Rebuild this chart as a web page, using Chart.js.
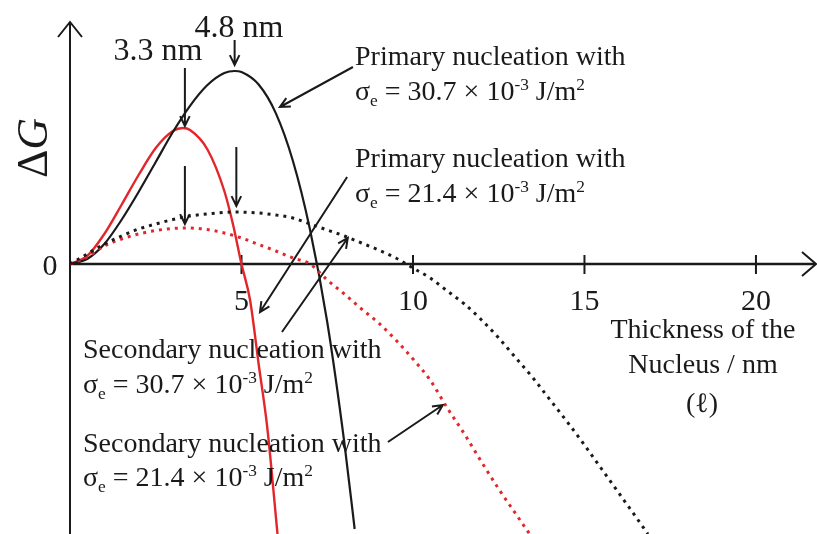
<!DOCTYPE html>
<html>
<head>
<meta charset="utf-8">
<script src="https://cdn.jsdelivr.net/npm/chart.js@4.4.0/dist/chart.umd.min.js"></script>
<style>
  html, body { margin: 0; padding: 0; background: #fff; }
</style>
</head>
<body>
<canvas id="myChart" width="817" height="534"></canvas>
<script>
// thickness of the nucleus (nm) vs ΔG (arbitrary units)
const lPrimary307 = [0, 0.5, 1, 1.5, 2, 2.5, 3, 3.5, 4, 4.5, 4.8, 5, 5.5, 6, 6.5, 7, 7.5, 8, 8.3];
const gPrimary307 = [0, 0.5, 2.0, 4.4, 7.2, 10.2, 13.2, 15.82, 17.87, 19.09, 19.3, 19.2, 17.95, 15.09, 10.3, 3.4, -5.8, -17.9, -26.5];

const lPrimary214 = [0, 0.5, 1, 1.5, 2, 2.5, 3, 3.3, 3.5, 4, 4.5, 4.75, 5, 5.25, 5.5, 5.75, 6.05];
const gPrimary214 = [0, 0.8, 3.0, 5.9, 8.9, 11.6, 13.3, 13.6, 13.4, 11.5, 7.3, 4.0, 0, -3.6, -10.0, -16.3, -27];

const lSecondary307 = [0, 0.5, 1, 1.5, 2, 2.5, 3, 3.5, 4, 4.8, 5.5, 6, 6.5, 7, 7.5, 8, 8.5, 9, 9.5, 10, 10.5, 11, 11.5, 12, 12.5, 13, 13.5, 14, 14.5, 15, 15.5, 16, 16.5, 16.85];
const gSecondary307 = [0, 1.0, 2.0, 2.8, 3.5, 4.0, 4.45, 4.8, 5.0, 5.2, 5.1, 4.9, 4.6, 4.0, 3.4, 2.8, 2.1, 1.4, 0.6, -0.4, -1.4, -2.7, -4.0, -5.6, -7.4, -9.4, -11.4, -13.6, -15.8, -18.1, -20.5, -22.9, -25.3, -27];

const lSecondary214 = [0, 0.5, 1, 1.5, 2, 2.5, 3, 3.4, 4, 4.5, 5, 5.5, 6, 6.5, 7, 7.5, 8, 8.5, 9, 9.5, 10, 10.5, 11, 11.5, 12, 12.5, 13, 13.4];
const gSecondary214 = [0, 0.7, 1.8, 2.5, 3.0, 3.35, 3.55, 3.6, 3.45, 3.1, 2.6, 1.95, 1.3, 0.6, 0, -1.6, -3.0, -4.5, -5.9, -7.6, -9.5, -11.6, -14.4, -17.0, -19.8, -22.5, -25.0, -27];

const xTicks = [5, 10, 15, 20];

// annotation arrows, [l1, g1, l2, g2] in data units, head at the second point
const arrows = [
    [4.8, 22.4, 4.8, 19.9],
    [3.35, 19.6, 3.35, 13.8],
    [3.35, 9.8, 3.35, 4.0],
    [4.85, 11.7, 4.85, 5.8],
    [8.25, 19.7, 6.12, 15.7],
    [8.08, 8.7, 5.54, -4.8],
    [6.18, -6.8, 8.1, 2.6],
    [9.27, -17.8, 10.87, -14.1]
];

const RED = '#e3262c';
const BLACK = '#1a1a1a';
const SERIF = '"Liberation Serif", "Times New Roman", serif';

const toPoints = (xs, ys) => xs.map((x, i) => ({ x: x, y: ys[i] }));

function drawRich(ctx, parts, x, y, size, align) {
    const fontFor = (p) => (p[1] ? size * 0.62 : size) + 'px ' + SERIF;
    let w = 0;
    parts.forEach(p => { ctx.font = fontFor(p); w += ctx.measureText(p[0]).width; });
    let cx = align === 'center' ? x - w / 2 : x;
    parts.forEach(p => {
        ctx.font = fontFor(p);
        const dy = p[1] === 'sub' ? size * 0.22 : (p[1] === 'sup' ? -size * 0.36 : 0);
        ctx.fillText(p[0], cx, y + dy);
        cx += ctx.measureText(p[0]).width;
    });
}

function sigmaLine(value) {
    return [['σ'], ['e', 'sub'], [' = ' + value + ' × 10'], ['-3', 'sup'], [' J/m'], ['2', 'sup']];
}

function drawArrow(ctx, x1, y1, x2, y2, head) {
    const a = Math.atan2(y2 - y1, x2 - x1);
    ctx.beginPath();
    ctx.moveTo(x1, y1);
    ctx.lineTo(x2, y2);
    ctx.moveTo(x2 - head * Math.cos(a - 0.45), y2 - head * Math.sin(a - 0.45));
    ctx.lineTo(x2, y2);
    ctx.lineTo(x2 - head * Math.cos(a + 0.45), y2 - head * Math.sin(a + 0.45));
    ctx.stroke();
}

const axesPlugin = {
    id: 'axes',
    beforeDatasetsDraw(chart) {
        const ctx = chart.ctx;
        const xs = chart.scales.x, ys = chart.scales.y;
        const x0 = xs.getPixelForValue(0), y0 = ys.getPixelForValue(0);
        const area = chart.chartArea;
        ctx.save();
        ctx.strokeStyle = BLACK;
        ctx.lineWidth = 2;
        // y axis with open arrow head
        ctx.beginPath();
        ctx.moveTo(x0, area.bottom);
        ctx.lineTo(x0, area.top);
        ctx.moveTo(x0 - 12, area.top + 15);
        ctx.lineTo(x0, area.top);
        ctx.lineTo(x0 + 12, area.top + 15);
        // x axis
        ctx.moveTo(x0, y0);
        ctx.lineTo(area.right - 1, y0);
        ctx.moveTo(area.right - 15, y0 - 12);
        ctx.lineTo(area.right - 1, y0);
        ctx.lineTo(area.right - 15, y0 + 12);
        ctx.stroke();
        ctx.lineWidth = 2.5;
        ctx.beginPath();
        ctx.moveTo(x0, y0);
        ctx.lineTo(area.right - 3, y0);
        ctx.stroke();
        ctx.lineWidth = 2;
        ctx.fillStyle = BLACK;
        ctx.font = '30px ' + SERIF;
        ctx.textAlign = 'center';
        ctx.textBaseline = 'alphabetic';
        xTicks.forEach(t => {
            const px = xs.getPixelForValue(t);
            ctx.beginPath();
            ctx.moveTo(px, y0 - 9);
            ctx.lineTo(px, y0 + 10);
            ctx.stroke();
            ctx.fillText(String(t), px, 310);
        });
        ctx.fillText('0', 50, 275);
        ctx.restore();
    },
    afterDraw(chart) {
        const ctx = chart.ctx;
        const xs = chart.scales.x, ys = chart.scales.y;
        ctx.save();
        ctx.fillStyle = BLACK;
        ctx.strokeStyle = BLACK;
        ctx.lineWidth = 2;
        ctx.textBaseline = 'alphabetic';
        ctx.textAlign = 'left';

        arrows.forEach(a => {
            drawArrow(ctx, xs.getPixelForValue(a[0]), ys.getPixelForValue(a[1]),
                xs.getPixelForValue(a[2]), ys.getPixelForValue(a[3]), 11);
        });

        // ΔG axis title
        ctx.save();
        ctx.translate(32, 148);
        ctx.rotate(-Math.PI / 2);
        ctx.font = '44px ' + SERIF;
        const wD = ctx.measureText('Δ').width;
        ctx.font = 'italic 44px ' + SERIF;
        const wG = ctx.measureText('G').width;
        ctx.font = '44px ' + SERIF;
        ctx.fillText('Δ', -(wD + wG) / 2, 15);
        ctx.font = 'italic 44px ' + SERIF;
        ctx.fillText('G', -(wD + wG) / 2 + wD, 15);
        ctx.restore();

        // critical thickness labels
        ctx.font = '32px ' + SERIF;
        ctx.textAlign = 'center';
        ctx.fillText('4.8 nm', 239, 37);
        ctx.fillText('3.3 nm', 158, 60);

        // x axis title
        ctx.font = '28px ' + SERIF;
        ctx.fillText('Thickness of the', 703, 338);
        ctx.fillText('Nucleus / nm', 703, 373);
        ctx.fillText('(ℓ)', 702, 412);

        // curve labels
        ctx.textAlign = 'left';
        ctx.font = '28px ' + SERIF;
        ctx.fillText('Primary nucleation with', 355, 65);
        drawRich(ctx, sigmaLine('30.7'), 355, 100, 28, 'left');
        ctx.font = '28px ' + SERIF;
        ctx.fillText('Primary nucleation with', 355, 167);
        drawRich(ctx, sigmaLine('21.4'), 355, 202, 28, 'left');
        ctx.font = '28px ' + SERIF;
        ctx.fillText('Secondary nucleation with', 83, 358);
        drawRich(ctx, sigmaLine('30.7'), 83, 393, 28, 'left');
        ctx.font = '28px ' + SERIF;
        ctx.fillText('Secondary nucleation with', 83, 452);
        drawRich(ctx, sigmaLine('21.4'), 83, 486, 28, 'left');
        ctx.restore();
    }
};

const canvas = document.getElementById('myChart');
const chart = new Chart(canvas, {
    type: 'scatter',
    data: {
        datasets: [
            {
                label: 'Secondary, 30.7',
                data: toPoints(lSecondary307, gSecondary307),
                borderColor: BLACK,
                borderWidth: 3,
                borderDash: [3, 5]
            },
            {
                label: 'Secondary, 21.4',
                data: toPoints(lSecondary214, gSecondary214),
                borderColor: RED,
                borderWidth: 3,
                borderDash: [3, 5]
            },
            {
                label: 'Primary, 30.7',
                data: toPoints(lPrimary307, gPrimary307),
                borderColor: BLACK,
                borderWidth: 2.2
            },
            {
                label: 'Primary, 21.4',
                data: toPoints(lPrimary214, gPrimary214),
                borderColor: RED,
                borderWidth: 2.4
            }
        ]
    },
    options: {
        responsive: false,
        animation: false,
        showLine: true,
        elements: {
            point: { radius: 0 },
            line: { cubicInterpolationMode: 'monotone', fill: false }
        },
        layout: { padding: { left: 70, right: 0, top: 22, bottom: 0 } },
        scales: {
            x: { type: 'linear', min: 0, max: 21.78, display: false },
            y: { type: 'linear', min: -27, max: 24.2, display: false }
        },
        plugins: {
            legend: { display: false },
            tooltip: { enabled: false }
        }
    },
    plugins: [axesPlugin]
});
</script>
</body>
</html>
